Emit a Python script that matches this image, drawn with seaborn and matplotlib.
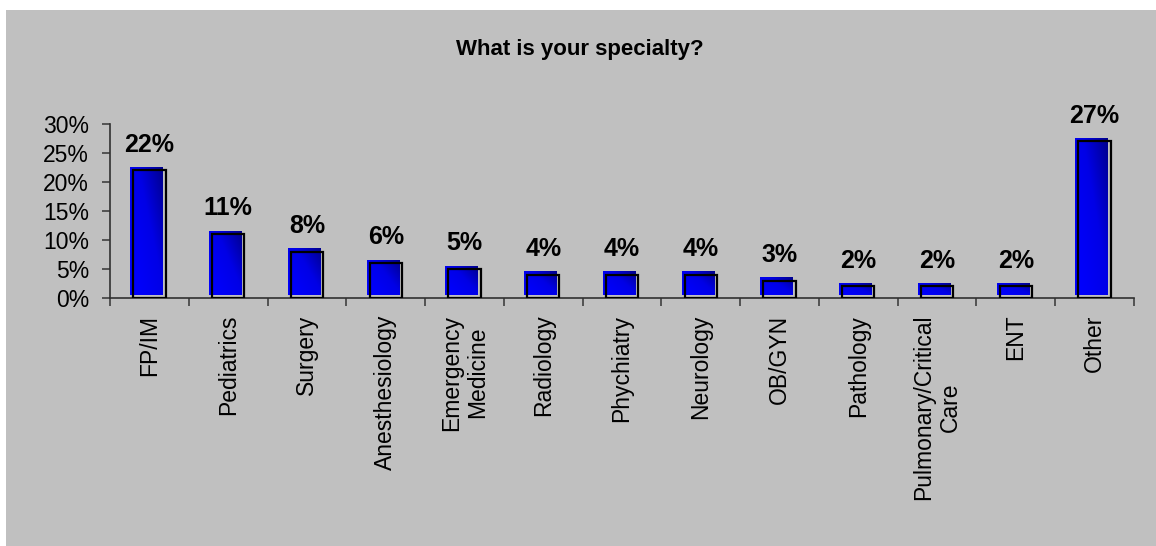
import numpy as np
import pandas as pd
import matplotlib
matplotlib.use("Agg")
import matplotlib.pyplot as plt
import matplotlib.transforms as mtransforms
from matplotlib.colors import LinearSegmentedColormap
from matplotlib.patches import Rectangle
import seaborn as sns

# Survey results
specialties = ["FP/IM", "Pediatrics", "Surgery", "Anesthesiology",
               "Emergency\nMedicine", "Radiology", "Phychiatry", "Neurology",
               "OB/GYN", "Pathology", "Pulmonary/Critical\nCare", "ENT", "Other"]
shares = [22, 11, 8, 6, 5, 4, 4, 4, 3, 2, 2, 2, 27]
y_ticks = [0, 5, 10, 15, 20, 25, 30]
title = "What is your specialty?"

df = pd.DataFrame({"specialty": specialties, "share": shares})

sns.set_theme(style="ticks")
plt.rcParams["font.family"] = ["Liberation Sans", "DejaVu Sans"]

W, H, DPI = 1156, 546, 100
fig = plt.figure(figsize=(W / DPI, H / DPI), dpi=DPI, facecolor="white")
# grey chart area
fig.patches.append(Rectangle((6 / W, 0), 1, 1 - 10 / H, transform=fig.transFigure,
                             facecolor="#C0C0C0", edgecolor="none", zorder=-10))

ax = fig.add_axes([110 / W, 248 / H, 1024 / W, 174 / H])
ax.set_facecolor("none")

bar_w = 0.41
# front (blue) bars
sns.barplot(data=df, x="specialty", y="share", order=specialties, color="#0000FF",
            width=bar_w, errorbar=None, saturation=1, ax=ax, zorder=2)
blue_bars = list(ax.patches)
# outlined frames behind/below the blue bars
sns.barplot(data=df, x="specialty", y="share", order=specialties, color="black",
            width=bar_w, errorbar=None, fill=False, ax=ax, zorder=4)
frame_bars = [p for p in ax.patches if p not in blue_bars]
for p in frame_bars:
    p.set_facecolor("none")
    p.set_edgecolor("black")
    p.set_linewidth(1.6)
    p.set_zorder(4)

# blue bars sit slightly up and to the left of their frames
shift = mtransforms.ScaledTranslation(-3 / DPI, 3 / DPI, fig.dpi_scale_trans)
cmap = LinearSegmentedColormap.from_list("bluegrad", ["#0000FF", "#0000E6", "#00008C"])
xx, yy = np.meshgrid(np.linspace(0, 1, 64), np.linspace(0, 1, 64))
grad = (0.55 * xx + 0.45 * yy) ** 1.3
for p in blue_bars:
    p.set_transform(ax.transData + shift)
    p.set_edgecolor("none")
    x0, w, h = p.get_x(), p.get_width(), p.get_height()
    im = ax.imshow(grad, cmap=cmap, vmin=0, vmax=1, origin="lower", aspect="auto",
                   extent=[x0, x0 + w, 0, h], interpolation="bilinear", zorder=3)
    im.set_transform(ax.transData + shift)

# value labels
for i, v in enumerate(shares):
    ax.annotate(f"{v}%", xy=(i, v), xytext=(0, 13.5), textcoords="offset points",
                ha="center", va="baseline", fontsize=18, fontweight="bold",
                color="black", annotation_clip=False)

ax.set_xlim(-0.5, len(specialties) - 0.5)
ax.set_ylim(0, 30)
ax.set_yticks(y_ticks)
ax.set_yticklabels([f"{t}%" for t in y_ticks])
ax.set_xticks(range(len(specialties)))
ax.set_xticklabels(specialties, rotation=90, ha="center", va="top",
                   multialignment="center")
ax.set_xticks(np.arange(-0.5, len(specialties), 1), minor=True)
ax.tick_params(axis="x", which="major", length=0, pad=12, labelsize=16.5, labelcolor="black")
ax.tick_params(axis="x", which="minor", length=6, width=1.2, color="#404040", direction="out")
ax.tick_params(axis="y", length=6, width=1.2, color="#404040", pad=9,
               labelsize=16.5, labelcolor="black")
ax.set_xlabel("")
ax.set_ylabel("")
for s in ["top", "right"]:
    ax.spines[s].set_visible(False)
for s in ["left", "bottom"]:
    ax.spines[s].set_color("#303030")
    ax.spines[s].set_linewidth(1.2)

fig.text(580 / W, 1 - 49 / H, title, ha="center", va="center",
         fontsize=16, fontweight="bold", color="black")

fig.savefig("out.png", dpi=DPI)
